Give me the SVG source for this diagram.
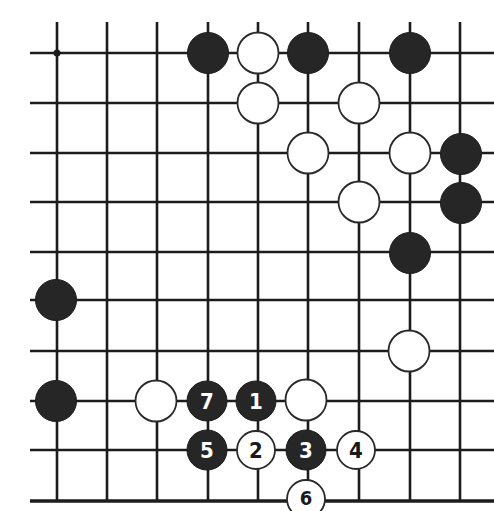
<svg xmlns="http://www.w3.org/2000/svg" width="494" height="511" viewBox="0 0 494 511">
<style>
.g{stroke:#1c1c1c;stroke-width:2.6;fill:none}
.edge{stroke:#1c1c1c;stroke-width:3.5}
.b{fill:#262626;stroke:#1c1c1c;stroke-width:1}
.w{fill:#ffffff;stroke:#2a2a2a;stroke-width:1.8}
.tb{fill:#ffffff;font-family:"Liberation Sans Narrow","DejaVu Sans Condensed","Liberation Sans",sans-serif;font-weight:bold;font-size:22px;text-anchor:middle}
.tw{fill:#1a1a1a;font-family:"Liberation Sans Narrow","DejaVu Sans Condensed","Liberation Sans",sans-serif;font-weight:bold;font-size:22px;text-anchor:middle}
</style>
<rect width="494" height="511" fill="#ffffff"/>
<g id="grid">
<path class="g" d="M30 53H494M30 103H494M30 153H494M30 202H494M30 252H494M30 300H494M30 351H494M30 401H494M30 450H494"/>
<path class="g" d="M57 22V501M107 22V501M157 22V501M208 22V501M258 22V501M308 22V501M359 22V501M410 22V501M460 22V501"/>
<path class="edge" d="M30 501H494"/>
<circle cx="57" cy="53" r="3.5" fill="#1c1c1c"/>
</g>
<g id="b1"><circle class="b" cx="208" cy="53" r="20.5"/></g>
<g id="w1"><circle class="w" cx="258" cy="53" r="20.5"/></g>
<g id="b2"><circle class="b" cx="308" cy="53" r="20.5"/></g>
<g id="b3"><circle class="b" cx="410" cy="53" r="20.5"/></g>
<g id="w2"><circle class="w" cx="258" cy="103" r="20.5"/></g>
<g id="w3"><circle class="w" cx="359" cy="103" r="20.5"/></g>
<g id="w4"><circle class="w" cx="308" cy="153" r="20.5"/></g>
<g id="w5"><circle class="w" cx="410" cy="153" r="20.5"/></g>
<g id="b4"><circle class="b" cx="461" cy="154" r="20.5"/></g>
<g id="w6"><circle class="w" cx="359" cy="202" r="20.5"/></g>
<g id="b5"><circle class="b" cx="461" cy="203" r="20.5"/></g>
<g id="b6"><circle class="b" cx="410" cy="253" r="20.5"/></g>
<g id="b7"><circle class="b" cx="56" cy="300" r="20.5"/></g>
<g id="w7"><circle class="w" cx="409" cy="351" r="20.5"/></g>
<g id="b8"><circle class="b" cx="56" cy="401" r="20.5"/></g>
<g id="w8"><circle class="w" cx="156" cy="401" r="20.5"/></g>
<g id="m7"><circle class="b" cx="207" cy="401" r="20"/><text class="tb" x="207" y="409">7</text></g>
<g id="m1"><circle class="b" cx="256" cy="401" r="20"/><text class="tb" x="256" y="409">1</text></g>
<g id="w9"><circle class="w" cx="306" cy="400" r="20.5"/></g>
<g id="m5"><circle class="b" cx="207" cy="450" r="20"/><text class="tb" x="207" y="458">5</text></g>
<g id="m2"><circle class="w" cx="256" cy="450" r="19"/><text class="tw" x="256" y="458">2</text></g>
<g id="m3"><circle class="b" cx="306" cy="450" r="20"/><text class="tb" x="306" y="458">3</text></g>
<g id="m4"><circle class="w" cx="356" cy="450" r="19"/><text class="tw" x="356" y="458">4</text></g>
<g id="m6"><circle class="w" cx="306" cy="499" r="19"/><text class="tw" x="306" y="505" style="font-size:20px">6</text></g>
</svg>
